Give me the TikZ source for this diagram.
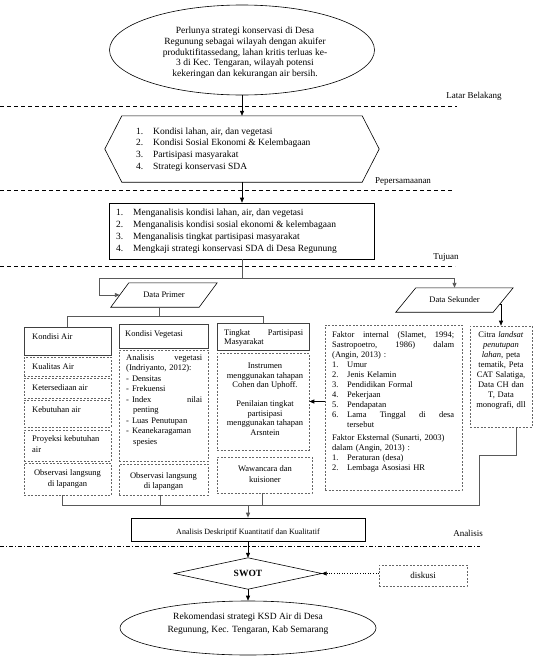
\documentclass[tikz,border=0pt]{standalone}
\usepackage{fontspec}
\setmainfont{Liberation Serif}
\usetikzlibrary{arrows.meta,shapes.geometric}
\begin{document}
\begin{tikzpicture}[x=1pt,y=-1pt,
  sb/.style={draw=black, line width=0.6pt, inner sep=0pt},
  gb/.style={draw=black!75, line width=0.7pt, inner sep=0pt},
  db/.style={draw=black!60, line width=0.6pt, dash pattern=on 2pt off 1.5pt, inner sep=0pt},
  tx/.style={inner sep=0pt, font=\fontsize{8.5}{10}\selectfont},
  arr/.style={-{Triangle[length=5pt,width=4pt]}},
  gl/.style={draw=black!65, line width=0.9pt},
  bl/.style={draw=black, line width=0.6pt},
  sep/.style={line width=0.6pt, dash pattern=on 4pt off 3pt},
  lab/.style={inner sep=0pt, font=\fontsize{9}{10}\selectfont},
]
\useasboundingbox (0,0) rectangle (533,664);

% ---------- top ellipse ----------
\node[ellipse, sb, minimum width=265pt, minimum height=90pt] (e1) at (242,50) {};
\node[inner sep=0pt, align=center, font=\fontsize{9.5}{10.7}\selectfont] (e1t) at (245,53)
 {Perlunya strategi konservasi di Desa\\Regunung sebagai wilayah dengan akuifer\\produktifitassedang, lahan kritis terluas ke-\\3 di Kec. Tengaran, wilayah potensi\\kekeringan dan kekurangan air bersih.};

\draw[sep] (0,106) -- (457,106);
\node[lab] (l1) at (474,96) {Latar Belakang};

% ---------- hexagon ----------
\node[minimum width=274pt, minimum height=66pt, inner sep=0pt] (hx) at (242,149) {};
\draw[bl] (hx.west) -- ([xshift=17pt]hx.north west) -- ([xshift=-17pt]hx.north east) -- (hx.east)
  -- ([xshift=-17pt]hx.south east) -- ([xshift=17pt]hx.south west) -- cycle;
\node[anchor=west, inner sep=0pt, font=\fontsize{9.5}{11.7}\selectfont] (hxt) at (136,149.5)
 {\begin{tabular}{@{}p{17pt}@{}l@{}}
 1.&Kondisi lahan, air, dan vegetasi\\
 2.&Kondisi Sosial Ekonomi \& Kelembagaan\\
 3.&Partisipasi masyarakat\\
 4.&Strategi konservasi SDA
 \end{tabular}};
\draw[bl,arr] (e1.south) -- (hx.north);

\draw[sep] (0,190) -- (452,190);
\node[lab] (l2) at (403,182) {Pepersamaanan};

% ---------- tujuan ----------
\node[sb, minimum width=265pt, minimum height=56pt] (tj) at (242,231) {};
\node[anchor=west, inner sep=0pt, font=\fontsize{9.5}{12}\selectfont] (tjt) at (116,231)
 {\begin{tabular}{@{}p{17pt}@{}l@{}}
 1.&Menganalisis kondisi lahan, air, dan vegetasi\\
 2.&Menganalisis kondisi sosial ekonomi \& kelembagaan\\
 3.&Menganalisis tingkat partisipasi masyarakat\\
 4.&Mengkaji strategi konservasi SDA di Desa Regunung
 \end{tabular}};
\draw[bl,arr] (hx.south) -- (tj.north);

\draw[sep] (0,266) -- (455,266);
\node[lab] (l3) at (446,257) {Tujuan};

% ---------- data primer / sekunder ----------
\node[minimum width=106pt, minimum height=24pt, inner sep=0pt, font=\fontsize{8.5}{10}\selectfont] (dp) at (164,295) {Data Primer};
\draw[bl] (dp.south west) -- ([xshift=-18pt]dp.south east) -- (dp.north east) -- ([xshift=18pt]dp.north west) -- cycle;
\node[minimum width=117pt, minimum height=24pt, inner sep=0pt, font=\fontsize{8.5}{10}\selectfont] (ds) at (454.5,300) {Data Sekunder};
\draw[bl] (ds.south west) -- ([xshift=-20pt]ds.south east) -- (ds.north east) -- ([xshift=20pt]ds.north west) -- cycle;

\coordinate (j1) at (242,278);
\coordinate (dpl) at ([xshift=9pt]dp.west);
\draw[gl] (tj.south) -- (j1);
\draw[gl,arr] (j1) -- (99,278) |- (dpl);
\draw[gl,arr] (j1) -| (ds.north);

% ---------- column 1: kondisi air ----------
\node[gb, minimum width=87pt, minimum height=28pt] (ka) at (67.5,341) {};
\node[tx, anchor=west] (kat) at (32,337) {Kondisi Air};
\node[db, minimum width=87pt, minimum height=19pt] (ka1) at (67.5,366.5) {};
\node[tx, anchor=west] (ka1t) at (32,367) {Kualitas Air};
\node[db, minimum width=87pt, minimum height=20pt] (ka2) at (67.5,388) {};
\node[tx, anchor=west] (ka2t) at (32,387.5) {Ketersediaan air};
\node[db, minimum width=87pt, minimum height=27pt] (ka3) at (67.5,413.5) {};
\node[tx, anchor=west] (ka3t) at (32,410) {Kebutuhan air};
\node[db, minimum width=87pt, minimum height=31pt] (ka4) at (67.5,445.5) {};
\node[tx, anchor=west, align=left, font=\fontsize{8.5}{11}\selectfont] (ka4t) at (32,444.5) {Proyeksi kebutuhan\\air};
\node[db, minimum width=87pt, minimum height=32pt] (ka5) at (67.5,479) {};
\node[tx, align=center, font=\fontsize{8.5}{11}\selectfont] (ka5t) at (67.5,479) {Observasi langsung\\di lapangan};

% ---------- column 2: vegetasi ----------
\node[gb, minimum width=89pt, minimum height=24pt] (kv) at (163.5,336) {};
\node[tx, anchor=west] (kvt0) at (125,334) {Kondisi Vegetasi};
\node[db, minimum width=89pt, minimum height=111pt] (kv1) at (163.5,405.5) {};
\node[tx, anchor=north west, text width=76pt, align=left, font=\fontsize{8.5}{10.5}\selectfont] (kvt) at (126,354)
 {Analisis\hfill vegetasi\\(Indriyanto, 2012):\\-\hspace{3pt}Densitas\\-\hspace{3pt}Frekuensi\\-\hspace{3pt}Index\hfill nilai\\\hspace*{7pt}penting\\-\hspace{3pt}Luas Penutupan\\-\hspace{3pt}Keanekaragaman\\\hspace*{7pt}spesies};
\node[db, minimum width=89pt, minimum height=31pt] (kv2) at (163.5,479.5) {};
\node[tx, align=center] (kv2t) at (163.5,481.5) {Observasi langsung\\di lapangan};

% ---------- column 3: partisipasi ----------
\node[gb, minimum width=92pt, minimum height=27pt] (tp) at (263,336.5) {};
\node[tx, anchor=north west, text width=79pt, align=left, font=\fontsize{8.5}{9.5}\selectfont] (tpt) at (224,329)
 {Tingkat\hfill Partisipasi\\Masyarakat};
\node[db, minimum width=92pt, minimum height=97pt] (tp1) at (263,401.5) {};
\node[tx, align=center, font=\fontsize{8.5}{9.5}\selectfont] (tp1t) at (265,399.5)
 {Instrumen\\menggunakan tahapan\\Cohen dan Uphoff.\\[9.5pt]Penilaian tingkat\\partisipasi\\menggunakan tahapan\\Arsntein};
\node[db, minimum width=95pt, minimum height=36pt] (tp2) at (264.5,475) {};
\node[tx, align=center, font=\fontsize{8.5}{11}\selectfont] (tp2t) at (265,474) {Wawancara dan\\kuisioner};

% bus from data primer
\coordinate (bus) at (0,316);
\draw[gl] (dp.south -| 159,0) -- (159,316);
\draw[gl] (ka.north) -- (ka.north |- bus) -- (tp.north |- bus) -- (tp.north);

% ---------- faktor box ----------
\node[db, minimum width=137pt, minimum height=165pt] (fk) at (393.5,407.5) {};
\node[tx, anchor=north west, text width=122pt, align=left] (fkt) at (332,331)
 {Faktor\hfill internal\hfill (Slamet,\hfill 1994;\\
  Sastropoetro,\hfill 1986)\hfill dalam\\
  (Angin, 2013) :\\
  \makebox[15pt][l]{1.}Umur\\
  \makebox[15pt][l]{2.}Jenis Kelamin\\
  \makebox[15pt][l]{3.}Pendidikan Formal\\
  \makebox[15pt][l]{4.}Pekerjaan\\
  \makebox[15pt][l]{5.}Pendapatan\\
  \makebox[15pt][l]{6.}Lama\hfill Tinggal\hfill di\hfill desa\\
  \hspace*{15pt}tersebut\\[3pt]
  Faktor Eksternal (Sunarti, 2003)\\
  dalam (Angin, 2013) :\\
  \makebox[15pt][l]{1.}Peraturan (desa)\\
  \makebox[15pt][l]{2.}Lembaga Asosiasi HR};
\draw[bl,line width=0.9pt,arr] (fk.west |- tp1.east) -- (tp1.east);

% ---------- citra box ----------
\node[db, minimum width=62pt, minimum height=101pt] (cit) at (501,376.5) {};
\node[tx, anchor=north, text width=62pt, align=center] (citt) at (501,331)
 {Citra \textit{landsat}\\\textit{penutupan}\\\textit{lahan}, peta\\tematik, Peta\\CAT Salatiga,\\Data CH dan\\T, Data\\monografi, dll};
\coordinate (dsr) at ([xshift=-13.5pt,yshift=-4pt]ds.east);
\draw[bl,arr] (dsr) -| (cit.north);

% ---------- bottom bus ----------
\coordinate (bb) at (0,505);
\coordinate (cb) at ([xshift=15pt]cit.south);
\coordinate (bl0) at ([xshift=-5.5pt]ka5.south |- bb);
\draw[gl] (cb) |- (479,455) |- (bl0) -- ([xshift=-5.5pt]ka5.south);
\draw[gl] ([xshift=-3.5pt]kv2.south) -- ([xshift=-3.5pt]kv2.south |- bb);
\draw[gl] ([xshift=-2.5pt]tp2.south) -- ([xshift=-2.5pt]tp2.south |- bb);

% ---------- analisis ----------
\node[sb, minimum width=234pt, minimum height=23pt] (an) at (248,529.5) {};
\node[inner sep=0pt, font=\fontsize{8}{9}\selectfont] (ant) at (248,532.5) {Analisis Deskriptif Kuantitatif dan Kualitatif};
\draw[gl,arr] (an.north |- bb) -- (an.north);
\node[lab] (l4) at (468,533) {Analisis};
\draw[line width=0.6pt, dash pattern=on 4pt off 2pt on 1pt off 2pt] (0,546) -- (480,546);

% ---------- SWOT ----------
\node[minimum width=147pt, minimum height=31pt, inner sep=0pt, font=\fontsize{9.5}{11}\selectfont\bfseries] (sw) at (248,573.5) {SWOT};
\draw[bl] (sw.west) -- (sw.north) -- (sw.east) -- (sw.south) -- cycle;
\draw[bl,arr] (an.south) -- (sw.north);

\node[db, minimum width=88pt, minimum height=21pt, font=\fontsize{9}{10}\selectfont] (dk) at (423,575.5) {diskusi};
\draw[bl, dotted, arr] (dk.west |- sw.east) -- (sw.east);

% ---------- bottom ellipse ----------
\node[ellipse, sb, minimum width=256pt, minimum height=54pt] (e2) at (248,628) {};
\node[inner sep=0pt, align=center, font=\fontsize{9.5}{13}\selectfont] (e2t) at (248,623.5)
 {Rekomendasi strategi KSD Air di Desa\\Regunung, Kec. Tengaran, Kab Semarang};
\draw[bl,arr] (sw.south) -- (e2.north);
\end{tikzpicture}
\end{document}
